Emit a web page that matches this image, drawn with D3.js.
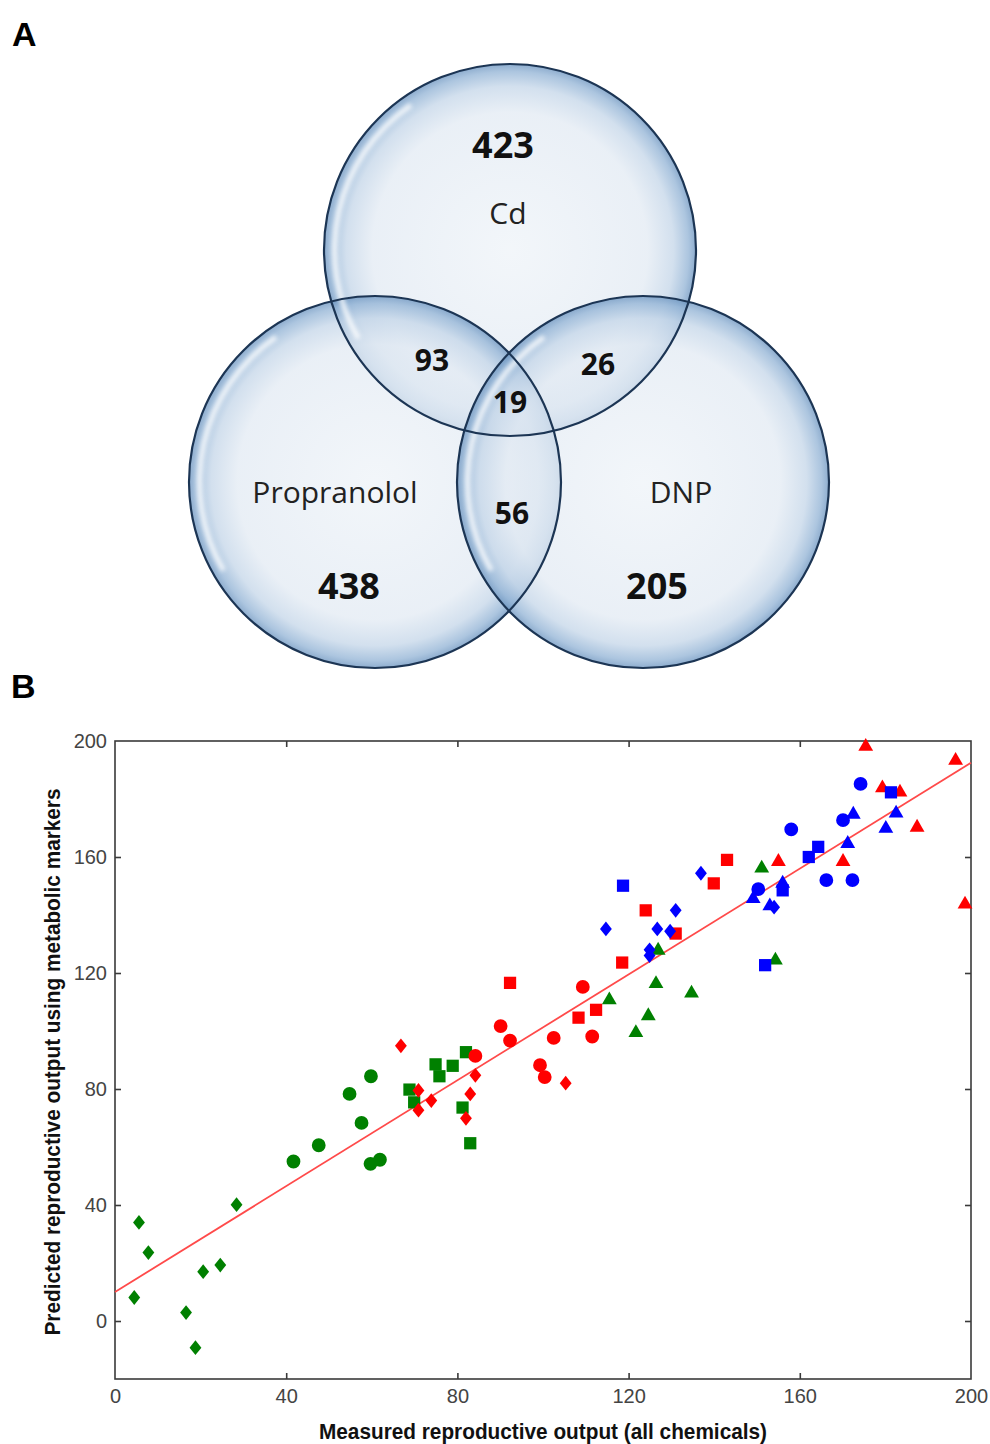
<!DOCTYPE html>
<html>
<head>
<meta charset="utf-8">
<script src="https://cdn.jsdelivr.net/npm/d3@7"></script>
<style>
  html, body { margin: 0; padding: 0; background: #fff; }
  svg { display: block; }
</style>
</head>
<body>
<svg id="chart" width="990" height="1444"></svg>
<script>
// ---------- Panel A data ----------
const vennSets = ["Cd", "Propranolol", "DNP"];
const vennRegionLabels = ["423", "438", "205", "93", "26", "56", "19"];

// ---------- Panel B data (measured, predicted) ----------
const xTicks = [0, 40, 80, 120, 160, 200];
const yTicks = [0, 40, 80, 120, 160, 200];

const greenDiamond = [[4.5,8.1],[5.6,34],[7.8,23.6],[16.6,2.9],[18.8,-9.2],[20.6,17],[24.6,19.3],[28.4,40.1]];
const greenCircle = [[41.7,55],[47.6,60.6],[54.8,78.3],[57.6,68.3],[59.8,84.4],[59.7,54.2],[61.9,55.6]];
const greenSquare = [[68.8,79.8],[69.9,75.4],[74.9,88.5],[75.8,84.4],[78.9,88],[82,92.7],[81.2,73.6],[83,61.3]];
const greenTriangle = [[115.5,110.7],[121.7,99.4],[124.6,105.2],[126.4,116.3],[126.9,127.8],[134.7,113],[151.1,156.1],[154.3,124.4]];

const redDiamond = [[66.8,94.9],[70.9,79.5],[70.9,72.7],[73.9,76],[82,69.9],[83,78.3],[84.2,84.7],[105.3,82]];
const redCircle = [[84.2,91.4],[90.1,101.7],[92.3,96.7],[99.3,88.2],[100.4,84.1],[102.5,97.6],[109.3,115.2],[111.5,98.1]];
const redSquare = [[92.3,116.6],[108.3,104.6],[112.4,107.3],[118.5,123.6],[124,141.6],[131,133.6],[139.9,150.9],[143,159]];
const redTriangle = [[155,158.4],[170.1,158.4],[175.4,198.1],[179.3,183.8],[183.4,182.3],[187.4,170.2],[196.4,193.3],[198.6,143.7]];

const blueDiamond = [[114.7,135.2],[124.9,128],[124.9,126],[126.7,135.2],[129.7,134.4],[131,141.6],[136.9,154.4],[154,142.7]];
const blueCircle = [[150.3,148.9],[158,169.5],[166.2,152],[170.1,172.7],[172.3,152],[174.2,185.2]];
const blueSquare = [[118.7,150.1],[151.9,122.7],[156,148.5],[162.1,160],[164.3,163.5],[181.3,182.3]];
const blueTriangle = [[149.1,145.6],[153,143.1],[156,150.9],[171.2,164.6],[172.5,174.7],[180.1,169.8],[182.5,175.1]];

const fitLine = [[0,10],[200,192.5]];

const xLabel = "Measured reproductive output (all chemicals)";
const yLabel = "Predicted reproductive output using metabolic markers";

// ---------- drawing ----------
const svg = d3.select("#chart");
const defs = svg.append("defs");

// Panel letters
svg.append("text").attr("x", 12).attr("y", 46).text("A")
  .attr("font-family", "Liberation Sans, Arial, sans-serif").attr("font-weight", "bold").attr("font-size", 34);
svg.append("text").attr("x", 11).attr("y", 698).text("B")
  .attr("font-family", "Liberation Sans, Arial, sans-serif").attr("font-weight", "bold").attr("font-size", 34);

// ----- Venn -----
const grad = defs.append("radialGradient").attr("id", "vg").attr("cx", "50%").attr("cy", "50%").attr("r", "50%");
grad.append("stop").attr("offset", "0%").attr("stop-color", "#eef3f8");
grad.append("stop").attr("offset", "74%").attr("stop-color", "#e2eaf3");
grad.append("stop").attr("offset", "88%").attr("stop-color", "#c3d5e8");
grad.append("stop").attr("offset", "96%").attr("stop-color", "#8fb1d4");
grad.append("stop").attr("offset", "100%").attr("stop-color", "#6690bd");

const blur = defs.append("filter").attr("id", "soft").attr("x", "-20%").attr("y", "-20%").attr("width", "140%").attr("height", "140%");
blur.append("feGaussianBlur").attr("stdDeviation", 2);

const vennCircles = [
  { name: vennSets[0], cx: 510, cy: 250, r: 186 },
  { name: vennSets[1], cx: 375, cy: 482, r: 186 },
  { name: vennSets[2], cx: 643, cy: 482, r: 186 }
];

const vg = svg.append("g");
vg.selectAll("circle.fill").data(vennCircles).join("circle")
  .attr("class", "fill")
  .attr("cx", d => d.cx).attr("cy", d => d.cy).attr("r", d => d.r)
  .attr("fill", "url(#vg)").attr("fill-opacity", 0.74);

// glossy highlight arcs
const hiArc = d3.arc();
vg.selectAll("path.hi").data(vennCircles).join("path")
  .attr("class", "hi")
  .attr("transform", d => `translate(${d.cx},${d.cy})`)
  .attr("d", d => hiArc({ innerRadius: d.r - 13, outerRadius: d.r - 8, startAngle: -2.1, endAngle: -0.6 }))
  .attr("fill", "#ffffff").attr("opacity", 0.8).attr("filter", "url(#soft)");

vg.selectAll("circle.edge").data(vennCircles).join("circle")
  .attr("class", "edge")
  .attr("cx", d => d.cx).attr("cy", d => d.cy).attr("r", d => d.r)
  .attr("fill", "none").attr("stroke", "#1c3554").attr("stroke-width", 2.2);

const vennFont = "Open Sans, Lato, Noto Sans, sans-serif";
const numberPos = [
  { t: vennRegionLabels[0], x: 503, y: 158, s: 36 },
  { t: vennRegionLabels[1], x: 349, y: 599, s: 36 },
  { t: vennRegionLabels[2], x: 657, y: 599, s: 36 },
  { t: vennRegionLabels[3], x: 432, y: 371, s: 30 },
  { t: vennRegionLabels[4], x: 598, y: 375, s: 30 },
  { t: vennRegionLabels[5], x: 512, y: 524, s: 30 },
  { t: vennRegionLabels[6], x: 510, y: 413, s: 30 }
];
vg.selectAll("text.num").data(numberPos).join("text")
  .attr("class", "num")
  .attr("x", d => d.x).attr("y", d => d.y)
  .attr("text-anchor", "middle")
  .attr("font-family", vennFont).attr("font-weight", "bold")
  .attr("font-size", d => d.s).attr("fill", "#111")
  .text(d => d.t);

const namePos = [
  { t: vennSets[0], x: 508, y: 224 },
  { t: vennSets[1], x: 335, y: 503 },
  { t: vennSets[2], x: 681, y: 503 }
];
vg.selectAll("text.name").data(namePos).join("text")
  .attr("class", "name")
  .attr("x", d => d.x).attr("y", d => d.y)
  .attr("text-anchor", "middle")
  .attr("font-family", vennFont)
  .attr("font-size", 30).attr("fill", "#222")
  .text(d => d.t);

// ----- Scatter -----
const x = d3.scaleLinear().domain([0, 200]).range([115, 971]);
const y = d3.scaleLinear().domain([-20, 200]).range([1379, 741]);
const axisColor = "#3a3a3a";
const tickFont = "Liberation Sans, Arial, sans-serif";

const pg = svg.append("g");

// frame
pg.append("rect")
  .attr("x", x(0)).attr("y", y(200))
  .attr("width", x(200) - x(0)).attr("height", y(-20) - y(200))
  .attr("fill", "none").attr("stroke", axisColor).attr("stroke-width", 1.6);

// axes with inward ticks
const tl = 6;
const xb = pg.append("g").attr("transform", `translate(0,${y(-20)})`)
  .call(d3.axisBottom(x).tickValues(xTicks).tickSizeInner(-tl).tickSizeOuter(0).tickPadding(9));
const xt = pg.append("g").attr("transform", `translate(0,${y(200)})`)
  .call(d3.axisTop(x).tickValues(xTicks).tickSizeInner(-tl).tickSizeOuter(0).tickFormat(""));
const yl = pg.append("g").attr("transform", `translate(${x(0)},0)`)
  .call(d3.axisLeft(y).tickValues(yTicks).tickSizeInner(-tl).tickSizeOuter(0).tickPadding(8));
const yr = pg.append("g").attr("transform", `translate(${x(200)},0)`)
  .call(d3.axisRight(y).tickValues(yTicks).tickSizeInner(-tl).tickSizeOuter(0).tickFormat(""));

[xb, xt, yl, yr].forEach(g => {
  g.select(".domain").remove();
  g.selectAll(".tick line").attr("stroke", axisColor).attr("stroke-width", 1.6);
  g.selectAll(".tick text").attr("font-family", tickFont).attr("font-size", 20).attr("fill", "#444");
});
// remove tick marks coinciding with the frame corners
xb.selectAll(".tick").filter(d => d === 0 || d === 200).select("line").remove();
xt.selectAll(".tick").filter(d => d === 0 || d === 200).select("line").remove();
yl.selectAll(".tick").filter(d => d === 200).select("line").remove();
yr.selectAll(".tick").filter(d => d === 200).select("line").remove();
xb.selectAll(".tick text").attr("dy", "0.75em");

// axis labels
const labelFont = "Liberation Sans Narrow, Arial Narrow, Liberation Sans, Arial, sans-serif";
pg.append("text")
  .attr("x", (x(0) + x(200)) / 2).attr("y", 1439)
  .attr("text-anchor", "middle")
  .attr("font-family", labelFont).attr("font-weight", "bold").attr("font-size", 22)
  .attr("textLength", 448).attr("lengthAdjust", "spacingAndGlyphs")
  .attr("fill", "#111")
  .text(xLabel);
pg.append("text")
  .attr("transform", `translate(60,${(y(200) + y(-20)) / 2 + 2}) rotate(-90)`)
  .attr("text-anchor", "middle")
  .attr("font-family", labelFont).attr("font-weight", "bold").attr("font-size", 22)
  .attr("textLength", 547).attr("lengthAdjust", "spacingAndGlyphs")
  .attr("fill", "#111")
  .text(yLabel);

// fit line
pg.append("path")
  .datum(fitLine)
  .attr("d", d3.line().x(d => x(d[0])).y(d => y(d[1])))
  .attr("fill", "none").attr("stroke", "#ff4a4a").attr("stroke-width", 1.8);

// markers
const diamondType = {
  draw(ctx, size) {
    const h = Math.sqrt(size / 0.8) / 2;
    const w = h * 0.8;
    ctx.moveTo(0, -h); ctx.lineTo(w, 0); ctx.lineTo(0, h); ctx.lineTo(-w, 0); ctx.closePath();
  }
};
const shapes = {
  diamond: d3.symbol().type(diamondType).size(175),
  circle: d3.symbol().type(d3.symbolCircle).size(150),
  square: d3.symbol().type(d3.symbolSquare).size(150),
  triangle: d3.symbol().type(d3.symbolTriangle).size(95)
};
const series = [
  { data: greenDiamond, shape: "diamond", color: "#008000" },
  { data: greenCircle, shape: "circle", color: "#008000" },
  { data: greenSquare, shape: "square", color: "#008000" },
  { data: greenTriangle, shape: "triangle", color: "#008000" },
  { data: redDiamond, shape: "diamond", color: "#ff0000" },
  { data: redCircle, shape: "circle", color: "#ff0000" },
  { data: redSquare, shape: "square", color: "#ff0000" },
  { data: redTriangle, shape: "triangle", color: "#ff0000" },
  { data: blueDiamond, shape: "diamond", color: "#0000ff" },
  { data: blueCircle, shape: "circle", color: "#0000ff" },
  { data: blueSquare, shape: "square", color: "#0000ff" },
  { data: blueTriangle, shape: "triangle", color: "#0000ff" }
];
series.forEach(s => {
  pg.append("g").selectAll("path").data(s.data).join("path")
    .attr("transform", d => `translate(${x(d[0])},${y(d[1])})`)
    .attr("d", shapes[s.shape]())
    .attr("fill", s.color);
});
</script>
</body>
</html>
